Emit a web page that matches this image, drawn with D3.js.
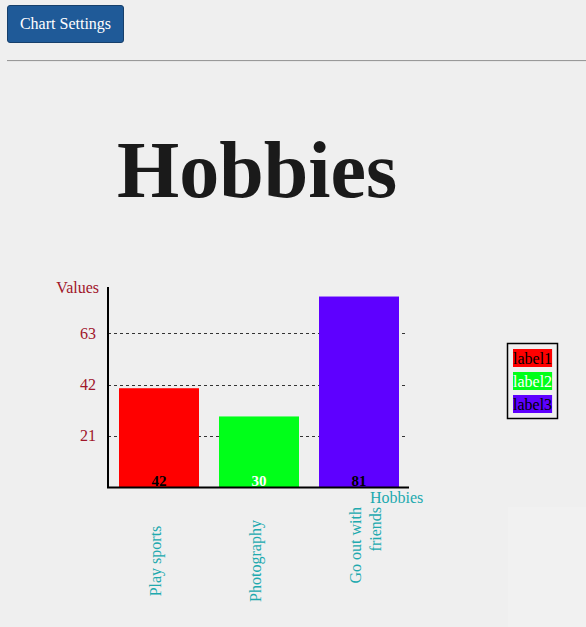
<!DOCTYPE html>
<html>
<head>
<meta charset="utf-8">
<script src="https://cdn.jsdelivr.net/npm/d3@7"></script>
<style>
  html, body { margin: 0; padding: 0; background: #efefef; width: 586px; height: 627px; overflow: hidden; }
  #btn { position: absolute; left: 7px; top: 5px; width: 117px; height: 38px; background: #1f5a98; color: #fff;
         border: 1px solid #163f6b; border-radius: 3px; font-family: "Liberation Serif", serif; font-size: 16px; padding: 0; }
  #rule { position: absolute; left: 7px; top: 60px; width: 579px; height: 0; border-top: 1px solid #999; border-bottom: 1px solid #e6e6e6; }
  svg { position: absolute; left: 0; top: 0; }
</style>
</head>
<body>
<button id="btn">Chart Settings</button>
<div id="rule"></div>
<svg id="chart" width="586" height="627"></svg>
<script>
const categories = ["Play sports", "Photography", "Go out with friends"];
const values = [42, 30, 81];
const barColors = ["#ff0000", "#00ff19", "#5e00ff"];
const labelColors = ["#000000", "#ffffff", "#000000"];
const legendLabels = ["label1", "label2", "label3"];
const tickValues = [21, 42, 63];
const title = "Hobbies";
const yTitle = "Values";
const xTitle = "Hobbies";

const svg = d3.select("#chart");
const serif = "'Liberation Serif', 'Times New Roman', serif";
const teal = "#20a9ae";
const red = "#a0152a";

// subtle lighter area bottom right
svg.append("rect").attr("x", 508).attr("y", 507).attr("width", 78).attr("height", 120).attr("fill", "#f1f1f1");

// title
svg.append("text").attr("x", 257).attr("y", 197).attr("text-anchor", "middle")
  .attr("font-family", serif).attr("font-weight", "bold").attr("font-size", 80).attr("fill", "#1a1a1a").text(title);

const x0 = 108, x1 = 409, yTop = 287, yBase = 487;
const x = d3.scaleBand().domain(categories).range([x0 + 1, x1]).paddingInner(0.2).paddingOuter(0.1);
const yBar = d3.scaleLinear().domain([0, d3.max(values) * 1.05]).range([yBase, yTop]);
const yGrid = d3.scaleLinear().domain([0, 82]).range([yBase, yTop]);

// grid lines
svg.append("g").selectAll("line").data(tickValues).join("line")
  .attr("x1", x0).attr("x2", 407).attr("y1", d => Math.round(yGrid(d)) + 0.5).attr("y2", d => Math.round(yGrid(d)) + 0.5)
  .attr("stroke", "#333").attr("stroke-width", 1).attr("stroke-dasharray", "3,3");

// tick labels
svg.append("g").selectAll("text").data(tickValues).join("text")
  .attr("x", 96).attr("y", d => yGrid(d)).attr("dy", "0.35em").attr("text-anchor", "end")
  .attr("font-family", serif).attr("font-size", 16).attr("fill", red).text(d => d);

svg.append("text").attr("x", 99).attr("y", 293).attr("text-anchor", "end")
  .attr("font-family", serif).attr("font-size", 16).attr("fill", red).text(yTitle);

// bars
svg.append("g").selectAll("rect").data(values).join("rect")
  .attr("x", (d, i) => x(categories[i])).attr("width", x.bandwidth())
  .attr("y", d => yBar(d)).attr("height", d => yBase - yBar(d))
  .attr("fill", (d, i) => barColors[i]);

// value labels
svg.append("g").selectAll("text").data(values).join("text")
  .attr("x", (d, i) => x(categories[i]) + x.bandwidth() / 2).attr("y", 486).attr("text-anchor", "middle")
  .attr("font-family", serif).attr("font-weight", "bold").attr("font-size", 15)
  .attr("fill", (d, i) => labelColors[i]).text(d => d);

// axes
svg.append("line").attr("x1", x0).attr("x2", x0).attr("y1", yTop).attr("y2", yBase + 1)
  .attr("stroke", "#000").attr("stroke-width", 2);
svg.append("line").attr("x1", x0 - 1).attr("x2", x1).attr("y1", yBase + 0.5).attr("y2", yBase + 0.5)
  .attr("stroke", "#000").attr("stroke-width", 2);

svg.append("text").attr("x", 370).attr("y", 503)
  .attr("font-family", serif).attr("font-size", 16).attr("fill", teal).text(xTitle);

// category labels (rotated, wrapped)
function wrapLines(txt) {
  const words = txt.split(" ");
  if (words.length <= 2) return [txt];
  return [words.slice(0, 3).join(" "), words.slice(3).join(" ")];
}
categories.forEach((c, i) => {
  const lines = wrapLines(c);
  const cx = x(c) + x.bandwidth() / 2 + 2;
  const multi = lines.length > 1;
  const t = svg.append("text")
    .attr("transform", `translate(${cx},${multi ? 507 : 561}) rotate(-90)`)
    .attr("text-anchor", multi ? "end" : "middle")
    .attr("font-family", serif).attr("font-size", 16).attr("fill", teal);
  lines.forEach((l, j) => t.append("tspan").attr("x", 0).attr("dy", j === 0 ? 0 : 19.5).text(l));
});

// legend
const lg = svg.append("g");
lg.append("rect").attr("x", 507.5).attr("y", 343.5).attr("width", 50).attr("height", 75)
  .attr("fill", "none").attr("stroke", "#000").attr("stroke-width", 1.5);
legendLabels.forEach((l, i) => {
  const g = lg.append("g");
  const bg = g.append("rect").attr("fill", barColors[i]);
  const t = g.append("text").attr("x", 513).attr("y", 364 + i * 23)
    .attr("font-family", serif).attr("font-size", 16).attr("fill", labelColors[i]).text(l);
  const w = t.node().getComputedTextLength();
  bg.attr("x", 513).attr("y", 349 + i * 23).attr("width", w).attr("height", 18);
});
</script>
</body>
</html>
